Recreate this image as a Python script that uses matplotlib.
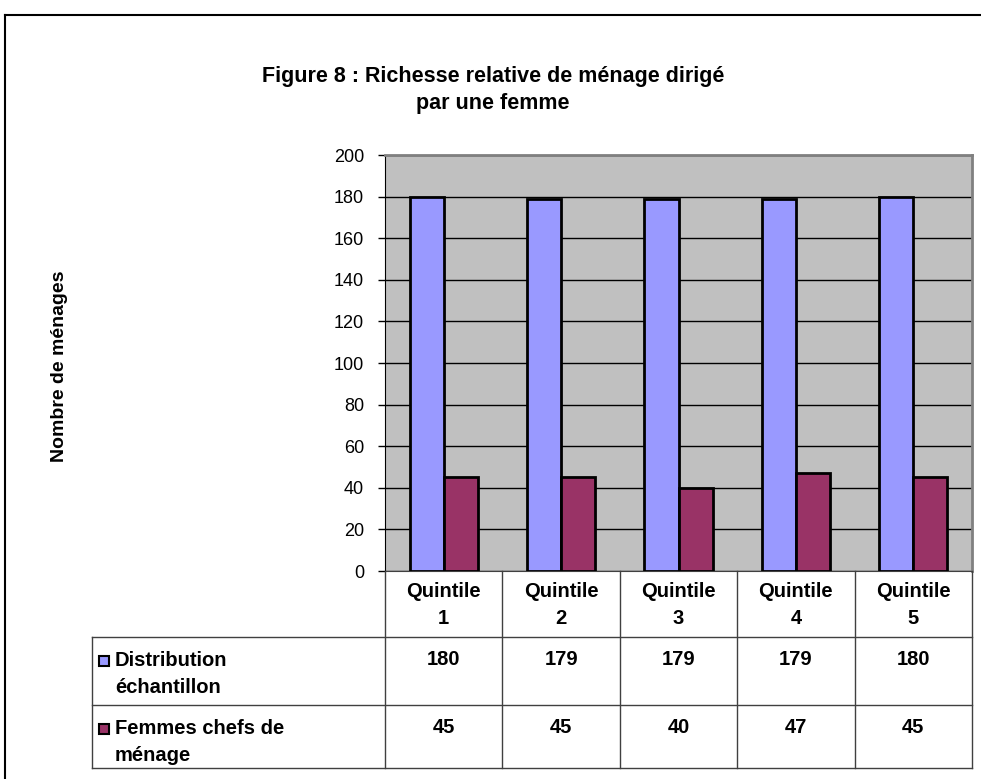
import matplotlib
matplotlib.use("Agg")
import matplotlib.pyplot as plt
from matplotlib.patches import Rectangle

# données
categories = ["Quintile\n1", "Quintile\n2", "Quintile\n3", "Quintile\n4", "Quintile\n5"]
series_names = ["Distribution\néchantillon", "Femmes chefs de\nménage"]
distribution = [180, 179, 179, 179, 180]
femmes = [45, 45, 40, 47, 45]
y_ticks = [0, 20, 40, 60, 80, 100, 120, 140, 160, 180, 200]

colors = ["#9999FF", "#993366"]

plt.rcParams["font.family"] = ["Liberation Sans", "DejaVu Sans"]

W, H = 981, 779
fig = plt.figure(figsize=(W / 100, H / 100), dpi=100)

# zone du graphique en pixels
px_l, px_r, px_t, px_b = 385, 972, 155, 571
ax = fig.add_axes([px_l / W, 1 - px_b / H, (px_r - px_l) / W, (px_b - px_t) / H])
ax.set_facecolor("#C0C0C0")

n = len(categories)
x = list(range(n))
w = 0.29
ax.bar([i - w / 2 for i in x], distribution, width=w, color=colors[0],
       edgecolor="black", linewidth=2, zorder=3)
ax.bar([i + w / 2 for i in x], femmes, width=w, color=colors[1],
       edgecolor="black", linewidth=2, zorder=3)

ax.set_xlim(-0.5, n - 0.5)
ax.set_ylim(0, 200)
ax.set_yticks(y_ticks)
ax.set_yticklabels([str(v) for v in y_ticks], fontsize=13)
ax.set_xticks([])
ax.yaxis.grid(True, color="black", linewidth=1)
ax.set_axisbelow(True)
ax.tick_params(axis="y", direction="out", length=5, width=1, pad=10)
ax.spines["left"].set_color("black")
ax.spines["bottom"].set_color("#404040")
for s in ["top", "right"]:
    ax.spines[s].set_color("#808080")
    ax.spines[s].set_linewidth(2)

# calque pour le cadre, le titre et le tableau (coordonnées en pixels)
ov = fig.add_axes([0, 0, 1, 1], zorder=5)
ov.set_xlim(0, W)
ov.set_ylim(H, 0)
ov.axis("off")
ov.patch.set_visible(False)

# cadre extérieur
ov.plot([5, 5], [15, H], color="black", lw=1.5)
ov.plot([5, W], [15, 15], color="black", lw=1.5)

ov.text(493, 76, "Figure 8 : Richesse relative de ménage dirigé",
        fontsize=15.5, fontweight="bold", ha="center", va="center")
ov.text(493, 103, "par une femme", fontsize=15.5, fontweight="bold",
        ha="center", va="center")

ov.text(60, 366, "Nombre de ménages", fontsize=14, fontweight="bold",
        rotation=90, ha="center", va="center")

# tableau de données
col_w = (px_r - px_l) / n
edges = [px_l + i * col_w for i in range(n + 1)]
row_y = [px_b, 637, 705, 768]
tab_l = 92
lc = "#404040"
for e in edges:
    ov.plot([e, e], [row_y[0], row_y[-1]], color=lc, lw=1)
ov.plot([tab_l, tab_l], [row_y[1], row_y[-1]], color=lc, lw=1)
for ry in row_y[1:]:
    ov.plot([tab_l, px_r], [ry, ry], color=lc, lw=1)

fs = 14.5
for i, cat in enumerate(categories):
    cx = (edges[i] + edges[i + 1]) / 2
    ov.text(cx, 605, cat, fontsize=fs, fontweight="bold", ha="center",
            va="center", linespacing=1.5)

for r, (name, vals) in enumerate(zip(series_names, [distribution, femmes])):
    top = row_y[r + 1]
    ov.add_patch(Rectangle((99, top + 19), 10, 10, facecolor=colors[r],
                           edgecolor="black", lw=1.5))
    ov.text(115, top + 14, name, fontsize=fs, fontweight="bold", ha="left",
            va="top", linespacing=1.55)
    for i, v in enumerate(vals):
        cx = (edges[i] + edges[i + 1]) / 2
        ov.text(cx, top + 13, str(v), fontsize=fs, fontweight="bold",
                ha="center", va="top")

fig.savefig("out.png", dpi=100)
